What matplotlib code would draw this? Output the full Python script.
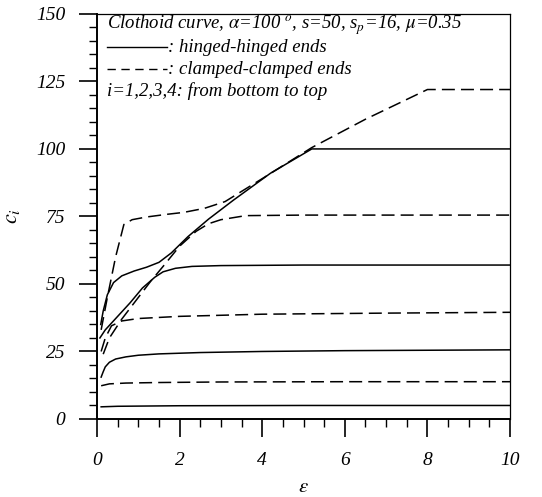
import matplotlib
matplotlib.use('Agg')
import matplotlib.pyplot as plt
from matplotlib.ticker import MultipleLocator

plt.rcParams['font.family'] = 'Liberation Serif'
plt.rcParams['mathtext.fontset'] = 'stix'

# Data (eps, c_i)
# hinged-hinged ends (solid)
h1_x = [0.1, 0.5, 2, 5, 10]
h1_y = [4.5, 4.7, 4.9, 5.0, 5.0]
h2_x = [0.1, 0.15, 0.2, 0.3, 0.45, 0.7, 1.0, 1.5, 2.5, 4, 6, 10]
h2_y = [15.5, 17.5, 19.3, 21.0, 22.2, 23.0, 23.6, 24.1, 24.6, 25.0, 25.3, 25.6]
h3_x = [0.07, 0.2, 0.5, 0.8, 1.1, 1.4, 1.6, 1.9, 2.3, 3, 5, 10]
h3_y = [30, 33, 38, 43, 48.5, 52.5, 54.5, 55.8, 56.5, 56.8, 57, 57]
h4_x = [0.09, 0.15, 0.25, 0.4, 0.6, 0.9, 1.2, 1.5, 1.8, 2.2, 2.7, 3.3, 4.2, 5.2, 6, 10]
h4_y = [35, 40, 46, 50.5, 53, 54.8, 56.2, 58, 61.5, 67.5, 74, 81, 91, 100, 100, 100]

# clamped-clamped ends (dashed)
c1_x = [0.1, 0.3, 0.7, 1.5, 3, 6, 10]
c1_y = [12.3, 13.0, 13.3, 13.5, 13.7, 13.8, 13.8]
c2_x = [0.1, 0.2, 0.35, 0.6, 1.0, 2.0, 4, 7, 10]
c2_y = [25, 30, 34.5, 36.3, 37.2, 38.0, 38.8, 39.2, 39.5]
c3_x = [0.15, 0.3, 0.6, 1.0, 1.3, 1.6, 2.0, 2.4, 2.7, 3.0, 3.6, 5, 10]
c3_y = [24, 30, 37, 45, 51, 56.5, 64, 69.5, 72.3, 73.8, 75.3, 75.5, 75.5]
c4_x = [0.1, 0.25, 0.45, 0.65, 0.85, 1.2, 1.7, 2.1, 2.6, 3.1, 4, 5.2, 6.5, 8.0, 10]
c4_y = [33, 45, 60, 72, 73.8, 74.8, 75.8, 76.5, 78, 80.5, 89, 100.5, 111, 122, 122]

solid = [(h1_x, h1_y), (h2_x, h2_y), (h3_x, h3_y), (h4_x, h4_y)]
dashed = [(c1_x, c1_y), (c2_x, c2_y), (c3_x, c3_y), (c4_x, c4_y)]

fig = plt.figure(figsize=(5.42, 4.97), dpi=100)
ax = fig.add_axes([0.179, 0.157, 0.762, 0.815])

for x, y in solid:
    ax.plot(x, y, color='black', lw=1.1, ls='-')
for x, y in dashed:
    ax.plot(x, y, color='black', lw=1.1, ls=(0, (8.5, 4)))

ax.set_xlim(0, 10)
ax.set_ylim(0, 150)
ax.xaxis.set_major_locator(MultipleLocator(2))
ax.xaxis.set_minor_locator(MultipleLocator(0.5))
ax.yaxis.set_major_locator(MultipleLocator(25))
ax.yaxis.set_minor_locator(MultipleLocator(5))
ax.tick_params(which='major', direction='out', length=13, width=1.2,
               labelsize=14, pad=10)
ax.tick_params(which='minor', direction='out', length=6, width=1.0)
ax.tick_params(axis='x', pad=11)
for lab in ax.get_xticklabels() + ax.get_yticklabels():
    lab.set_fontstyle('italic')

ax.spines['left'].set_linewidth(1.4)
ax.spines['bottom'].set_linewidth(1.4)
ax.spines['top'].set_linewidth(0.9)
ax.spines['right'].set_linewidth(0.9)

ax.set_xlabel(r'$\varepsilon$', fontsize=15, labelpad=6)
ax.set_ylabel(r'$c_i$', fontsize=16, labelpad=10)

# legend box text
fs = 13.5
ax.text(0.025, 0.972,
        r'Clothoid curve, $\alpha$=100 $^{o}$, s=50, s$_p$=16, $\mu$=0.35',
        transform=ax.transAxes, fontsize=fs, style='italic', va='center')
ax.plot([0.025, 0.17], [0.918, 0.918], transform=ax.transAxes,
        color='black', lw=1.0)
ax.text(0.172, 0.918, ': hinged-hinged ends', transform=ax.transAxes,
        fontsize=fs, style='italic', va='center')
ax.plot([0.025, 0.17], [0.864, 0.864], transform=ax.transAxes,
        color='black', lw=1.0, ls=(0, (6, 4)))
ax.text(0.172, 0.864, ': clamped-clamped ends', transform=ax.transAxes,
        fontsize=fs, style='italic', va='center')
ax.text(0.025, 0.81, 'i=1,2,3,4: from bottom to top', transform=ax.transAxes,
        fontsize=fs, style='italic', va='center')

fig.savefig('out.png', dpi=100)
